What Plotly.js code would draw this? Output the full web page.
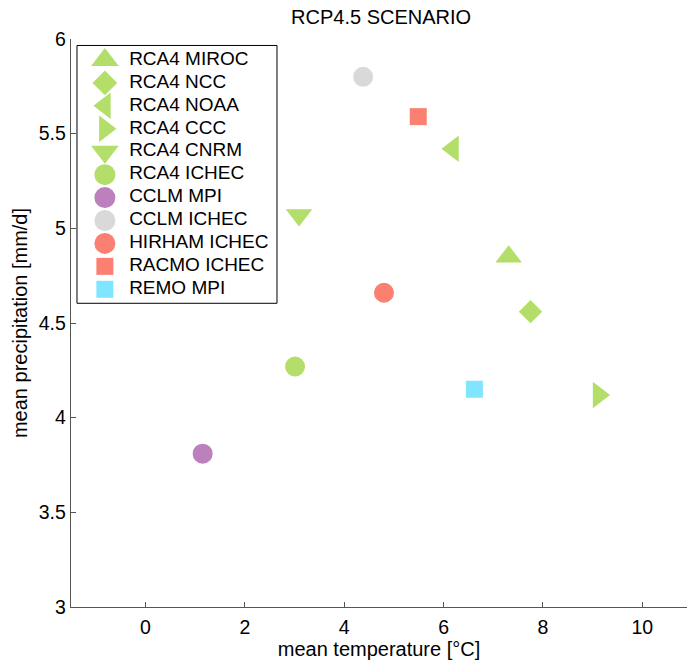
<!DOCTYPE html>
<html>
<head>
<meta charset="utf-8">
<script src="https://cdn.plot.ly/plotly-3.0.1.min.js"></script>
<style>html,body{margin:0;padding:0;background:#fff;}#chart{width:688px;height:660px;}</style>
</head>
<body>
<div id="chart"></div>
<script>
// ---- data ----
const models = ["RCA4 MIROC","RCA4 NCC","RCA4 NOAA","RCA4 CCC","RCA4 CNRM","RCA4 ICHEC","CCLM MPI","CCLM ICHEC","HIRHAM ICHEC","RACMO ICHEC","REMO MPI"];
const temperature = [7.31, 7.75, 6.19, 9.12, 3.09, 3.01, 1.15, 4.38, 4.80, 5.49, 6.62];
const precipitation = [4.85, 4.56, 5.42, 4.12, 5.07, 4.27, 3.81, 5.80, 4.66, 5.59, 4.15];
const xTicks = [0, 2, 4, 6, 8, 10];
const yTicks = [3, 3.5, 4, 4.5, 5, 5.5, 6];

// ---- style ----
const symbols = ["triangle-up","diamond","triangle-left","triangle-right","triangle-down","circle","circle","circle","circle","square","square"];
const colors = ["#b3de69","#b3de69","#b3de69","#b3de69","#b3de69","#b3de69","#bc80bd","#d9d9d9","#fb8072","#fb8072","#80e5ff"];
const sizes = [23, 18, 23, 23, 23, 20, 20, 20, 20, 17, 17];
const legendSizes = [24, 19, 23, 23, 24, 21, 21, 21, 21, 17, 17];
const fam = "Liberation Sans, Arial, Helvetica, sans-serif";

const traces = models.map((m, i) => ({
  type: "scatter",
  mode: "markers",
  name: m,
  x: [temperature[i]],
  y: [precipitation[i]],
  marker: {symbol: symbols[i], color: colors[i], size: sizes[i], opacity: 1, line: {width: 0}},
  cliponaxis: false,
  showlegend: false
}));

// legend drawn on an auxiliary axis pair: entry index -> row
const legendIdx = models.map((m, i) => i);
const legendSymbolX = 0.055;
const legendTextX = 0.0944;
traces.push({
  type: "scatter", mode: "markers", xaxis: "x2", yaxis: "y2",
  x: legendIdx.map(() => legendSymbolX), y: legendIdx,
  marker: {symbol: symbols, color: colors, size: legendSizes, opacity: 1, line: {width: 0}},
  cliponaxis: false, showlegend: false, hoverinfo: "skip"
});
traces.push({
  type: "scatter", mode: "text", xaxis: "x2", yaxis: "y2",
  x: legendIdx.map(() => legendTextX), y: legendIdx,
  text: models, textposition: "middle right",
  textfont: {family: fam, size: 19, color: "#000"},
  cliponaxis: false, showlegend: false, hoverinfo: "skip"
});

const layout = {
  width: 688, height: 660,
  margin: {l: 71, r: 1, t: 38.5, b: 53},
  paper_bgcolor: "#fff", plot_bgcolor: "#fff",
  font: {family: fam, size: 16, color: "#000"},
  showlegend: false,
  title: {text: "RCP4.5 SCENARIO", font: {family: fam, size: 20, color: "#000"}, x: 0.554, xanchor: "center", y: 0.9735, yanchor: "middle"},
  xaxis: {
    range: [-1.5, 10.9], tickvals: xTicks, ticktext: xTicks.map(String),
    ticks: "inside", ticklen: 5, tickcolor: "#555", showline: true, linecolor: "#555", linewidth: 1.3,
    showgrid: false, zeroline: false, mirror: false, ticklabelstandoff: 2,
    tickfont: {family: fam, size: 19.5, color: "#000"},
    title: {text: "mean temperature [°C]", font: {family: fam, size: 20, color: "#000"}, standoff: 1}
  },
  yaxis: {
    range: [3, 6], tickvals: yTicks, ticktext: yTicks.map(String),
    ticks: "inside", ticklen: 5, tickcolor: "#555", showline: true, linecolor: "#555", linewidth: 1.3,
    showgrid: false, zeroline: false, mirror: false,
    tickfont: {family: fam, size: 19.5, color: "#000"},
    title: {text: "mean precipitation [mm/d]", font: {family: fam, size: 20, color: "#000"}, standoff: 5}
  },
  xaxis2: {overlaying: "x", range: [0, 1], visible: false, fixedrange: true},
  yaxis2: {overlaying: "y", range: [23.855, -0.915], visible: false, fixedrange: true},
  shapes: [{
    type: "rect", xref: "paper", yref: "paper",
    x0: 0.00974, x1: 0.3344, y0: 0.5347, y1: 0.9886,
    line: {color: "#000", width: 1}, fillcolor: "#fff", layer: "below"
  }]
};
Plotly.newPlot("chart", traces, layout, {displayModeBar: false, staticPlot: true});
</script>
</body>
</html>
